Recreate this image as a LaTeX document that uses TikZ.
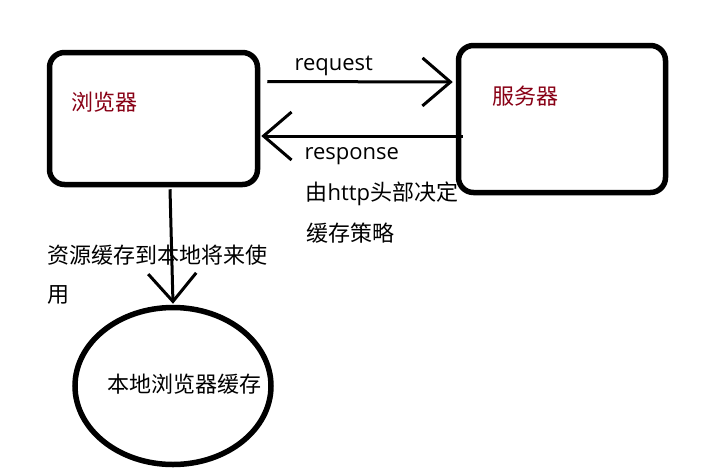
\documentclass[tikz,border=0pt]{standalone}
\usepackage{fontspec}
\setmainfont{Open Sans}
\newfontfamily\cjk{Noto Sans CJK SC}
\usepackage{tikz}
\usetikzlibrary{arrows.meta,shapes.geometric,positioning,calc}
\definecolor{paintred}{RGB}{136,0,21}

\begin{document}
\begin{tikzpicture}[
x=1pt, y=-1pt, line width=3pt,
>={Straight Barb[length=28pt,width=48pt]},
box-node/.style = {draw, rounded corners=15pt, line width=5.5pt, inner sep=0pt},
cache-node/.style = {ellipse, draw, line width=5.5pt, inner sep=0pt},
txt/.style = {anchor=base west, inner sep=0pt, font=\fontsize{22}{26}\selectfont},
cjk-txt/.style = {txt, font=\fontsize{22}{26}\selectfont\cjk}
]
\useasboundingbox (0,0) rectangle (707,475);

\node [box-node, minimum width=208pt, minimum height=132pt] (browser) at (153.5, 118.5) {};
\node [box-node, minimum width=207pt, minimum height=147pt] (server) at (562, 119) {};
\node [cache-node, minimum width=196pt, minimum height=157pt] (cache) at (173, 386) {};

% texts
\node [cjk-txt, text=paintred] (browser-lbl) at (70, 110) {浏览器};
\node [cjk-txt, text=paintred] (server-lbl) at (491, 104) {服务器};
\node [cjk-txt] (cache-lbl) at (106, 392) {本地浏览器缓存};
\node [txt] (req-lbl) at (293, 70) {request};
\node [txt] (resp-lbl) at (303, 159) {response};
\node [txt] (http-lbl) at (304, 200) {{\cjk 由}http{\cjk 头部决定}};
\node [cjk-txt] (policy-lbl) at (305, 241) {缓存策略};
\node [cjk-txt] (store-lbl) at (46, 263) {资源缓存到本地将来使};
\node [cjk-txt] (use-lbl) at (46, 302) {用};

% arrows
\draw[->] ([xshift=7pt,yshift=37pt]browser.east) -- ([xshift=-3pt,yshift=37pt]server.west);
\draw[->] ([xshift=7pt,yshift=-17pt]server.west) -- ([xshift=1pt,yshift=-17.5pt]browser.east);
\draw[->] ([xshift=16.5pt,yshift=-2pt]browser.south) -- ([yshift=1pt]cache.north);

\end{tikzpicture}
\end{document}
